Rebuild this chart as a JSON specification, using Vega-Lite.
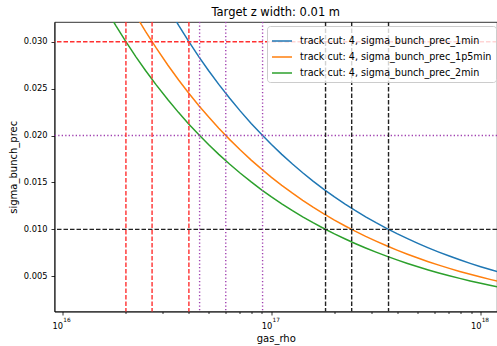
{
  "$schema": "https://vega.github.io/schema/vega-lite/v6.json",
  "autosize": "none",
  "width": 442.5,
  "height": 289.5,
  "padding": {"left": 54.5, "top": 22, "right": 0, "bottom": 34.5},
  "title": {"text": "Target z width: 0.01 m", "fontSize": 11.5, "fontWeight": "normal", "color": "#000", "offset": 3},
  "datasets": {
    "curves": [
      {"series": "1min", "rho": 3.2e16, "sigma": 0.033667},
      {"series": "1min", "rho": 3.6e16, "sigma": 0.031742},
      {"series": "1min", "rho": 4.0e16, "sigma": 0.030113},
      {"series": "1min", "rho": 4.5e16, "sigma": 0.028390},
      {"series": "1min", "rho": 5.0e16, "sigma": 0.026933},
      {"series": "1min", "rho": 5.6e16, "sigma": 0.025450},
      {"series": "1min", "rho": 6.3e16, "sigma": 0.023994},
      {"series": "1min", "rho": 7.1e16, "sigma": 0.022602},
      {"series": "1min", "rho": 8.0e16, "sigma": 0.021293},
      {"series": "1min", "rho": 9.0e16, "sigma": 0.020075},
      {"series": "1min", "rho": 1.0e17, "sigma": 0.019045},
      {"series": "1min", "rho": 1.12e17, "sigma": 0.017996},
      {"series": "1min", "rho": 1.26e17, "sigma": 0.016967},
      {"series": "1min", "rho": 1.41e17, "sigma": 0.016039},
      {"series": "1min", "rho": 1.58e17, "sigma": 0.015151},
      {"series": "1min", "rho": 1.78e17, "sigma": 0.014275},
      {"series": "1min", "rho": 2.0e17, "sigma": 0.013467},
      {"series": "1min", "rho": 2.24e17, "sigma": 0.012725},
      {"series": "1min", "rho": 2.51e17, "sigma": 0.012021},
      {"series": "1min", "rho": 2.82e17, "sigma": 0.011341},
      {"series": "1min", "rho": 3.16e17, "sigma": 0.010713},
      {"series": "1min", "rho": 3.55e17, "sigma": 0.010108},
      {"series": "1min", "rho": 3.98e17, "sigma": 0.009546},
      {"series": "1min", "rho": 4.47e17, "sigma": 0.009008},
      {"series": "1min", "rho": 5.01e17, "sigma": 0.008509},
      {"series": "1min", "rho": 5.62e17, "sigma": 0.008033},
      {"series": "1min", "rho": 6.31e17, "sigma": 0.007582},
      {"series": "1min", "rho": 7.08e17, "sigma": 0.007158},
      {"series": "1min", "rho": 7.94e17, "sigma": 0.006758},
      {"series": "1min", "rho": 8.91e17, "sigma": 0.006380},
      {"series": "1min", "rho": 1.0e18, "sigma": 0.006023},
      {"series": "1min", "rho": 1.12e18, "sigma": 0.005691},
      {"series": "1min", "rho": 1.2e18, "sigma": 0.005498},
      {"series": "1p5min", "rho": 2.25e16, "sigma": 0.032784},
      {"series": "1p5min", "rho": 2.5e16, "sigma": 0.031102},
      {"series": "1p5min", "rho": 2.8e16, "sigma": 0.029388},
      {"series": "1p5min", "rho": 3.2e16, "sigma": 0.027490},
      {"series": "1p5min", "rho": 3.6e16, "sigma": 0.025918},
      {"series": "1p5min", "rho": 4.0e16, "sigma": 0.024588},
      {"series": "1p5min", "rho": 4.5e16, "sigma": 0.023182},
      {"series": "1p5min", "rho": 5.0e16, "sigma": 0.021992},
      {"series": "1p5min", "rho": 5.6e16, "sigma": 0.020781},
      {"series": "1p5min", "rho": 6.3e16, "sigma": 0.019592},
      {"series": "1p5min", "rho": 7.1e16, "sigma": 0.018455},
      {"series": "1p5min", "rho": 8.0e16, "sigma": 0.017386},
      {"series": "1p5min", "rho": 9.0e16, "sigma": 0.016392},
      {"series": "1p5min", "rho": 1.0e17, "sigma": 0.015551},
      {"series": "1p5min", "rho": 1.12e17, "sigma": 0.014694},
      {"series": "1p5min", "rho": 1.26e17, "sigma": 0.013854},
      {"series": "1p5min", "rho": 1.41e17, "sigma": 0.013096},
      {"series": "1p5min", "rho": 1.58e17, "sigma": 0.012372},
      {"series": "1p5min", "rho": 1.78e17, "sigma": 0.011656},
      {"series": "1p5min", "rho": 2.0e17, "sigma": 0.010996},
      {"series": "1p5min", "rho": 2.24e17, "sigma": 0.010390},
      {"series": "1p5min", "rho": 2.51e17, "sigma": 0.009816},
      {"series": "1p5min", "rho": 2.82e17, "sigma": 0.009260},
      {"series": "1p5min", "rho": 3.16e17, "sigma": 0.008748},
      {"series": "1p5min", "rho": 3.55e17, "sigma": 0.008254},
      {"series": "1p5min", "rho": 3.98e17, "sigma": 0.007795},
      {"series": "1p5min", "rho": 4.47e17, "sigma": 0.007355},
      {"series": "1p5min", "rho": 5.01e17, "sigma": 0.006948},
      {"series": "1p5min", "rho": 5.62e17, "sigma": 0.006560},
      {"series": "1p5min", "rho": 6.31e17, "sigma": 0.006191},
      {"series": "1p5min", "rho": 7.08e17, "sigma": 0.005845},
      {"series": "1p5min", "rho": 7.94e17, "sigma": 0.005519},
      {"series": "1p5min", "rho": 8.91e17, "sigma": 0.005210},
      {"series": "1p5min", "rho": 1.0e18, "sigma": 0.004918},
      {"series": "1p5min", "rho": 1.12e18, "sigma": 0.004647},
      {"series": "1p5min", "rho": 1.2e18, "sigma": 0.004489},
      {"series": "2min", "rho": 1.6e16, "sigma": 0.033666},
      {"series": "2min", "rho": 1.8e16, "sigma": 0.031741},
      {"series": "2min", "rho": 2.0e16, "sigma": 0.030112},
      {"series": "2min", "rho": 2.25e16, "sigma": 0.028390},
      {"series": "2min", "rho": 2.5e16, "sigma": 0.026933},
      {"series": "2min", "rho": 2.8e16, "sigma": 0.025449},
      {"series": "2min", "rho": 3.2e16, "sigma": 0.023806},
      {"series": "2min", "rho": 3.6e16, "sigma": 0.022444},
      {"series": "2min", "rho": 4.0e16, "sigma": 0.021293},
      {"series": "2min", "rho": 4.5e16, "sigma": 0.020075},
      {"series": "2min", "rho": 5.0e16, "sigma": 0.019044},
      {"series": "2min", "rho": 5.6e16, "sigma": 0.017996},
      {"series": "2min", "rho": 6.3e16, "sigma": 0.016966},
      {"series": "2min", "rho": 7.1e16, "sigma": 0.015982},
      {"series": "2min", "rho": 8.0e16, "sigma": 0.015056},
      {"series": "2min", "rho": 9.0e16, "sigma": 0.014195},
      {"series": "2min", "rho": 1.0e17, "sigma": 0.013467},
      {"series": "2min", "rho": 1.12e17, "sigma": 0.012725},
      {"series": "2min", "rho": 1.26e17, "sigma": 0.011997},
      {"series": "2min", "rho": 1.41e17, "sigma": 0.011341},
      {"series": "2min", "rho": 1.58e17, "sigma": 0.010714},
      {"series": "2min", "rho": 1.78e17, "sigma": 0.010094},
      {"series": "2min", "rho": 2.0e17, "sigma": 0.009522},
      {"series": "2min", "rho": 2.24e17, "sigma": 0.008998},
      {"series": "2min", "rho": 2.51e17, "sigma": 0.008500},
      {"series": "2min", "rho": 2.82e17, "sigma": 0.008019},
      {"series": "2min", "rho": 3.16e17, "sigma": 0.007576},
      {"series": "2min", "rho": 3.55e17, "sigma": 0.007148},
      {"series": "2min", "rho": 3.98e17, "sigma": 0.006750},
      {"series": "2min", "rho": 4.47e17, "sigma": 0.006369},
      {"series": "2min", "rho": 5.01e17, "sigma": 0.006016},
      {"series": "2min", "rho": 5.62e17, "sigma": 0.005680},
      {"series": "2min", "rho": 6.31e17, "sigma": 0.005361},
      {"series": "2min", "rho": 7.08e17, "sigma": 0.005061},
      {"series": "2min", "rho": 7.94e17, "sigma": 0.004779},
      {"series": "2min", "rho": 8.91e17, "sigma": 0.004511},
      {"series": "2min", "rho": 1.0e18, "sigma": 0.004259},
      {"series": "2min", "rho": 1.12e18, "sigma": 0.004024},
      {"series": "2min", "rho": 1.2e18, "sigma": 0.003888}
    ],
    "hlines": [
      {"level": 0.03},
      {"level": 0.02},
      {"level": 0.01}
    ],
    "vlines": [
      {"level": 0.03, "rho": 2.015e16},
      {"level": 0.03, "rho": 2.687e16},
      {"level": 0.03, "rho": 4.03e16},
      {"level": 0.02, "rho": 4.534e16},
      {"level": 0.02, "rho": 6.046e16},
      {"level": 0.02, "rho": 9.068e16},
      {"level": 0.01, "rho": 1.8135e17},
      {"level": 0.01, "rho": 2.418e17},
      {"level": 0.01, "rho": 3.627e17}
    ]
  },
  "layer": [
    {
      "data": {"name": "curves"},
      "mark": {"type": "line", "clip": true, "strokeWidth": 1.5},
      "encoding": {
        "x": {
          "field": "rho", "type": "quantitative",
          "scale": {"type": "log", "domain": [9.18e15, 1.197e18], "nice": false},
          "axis": {
            "orient": "bottom",
            "title": "gas_rho",
            "values": [1e16, 2e16, 3e16, 4e16, 5e16, 6e16, 7e16, 8e16, 9e16, 1e17, 2e17, 3e17, 4e17, 5e17, 6e17, 7e17, 8e17, 9e17, 1e18],
            "labelExpr": "datum.value == 1e16 || datum.value == 1e17 || datum.value == 1e18 ? '10' : ''",
            "tickSize": {"condition": {"test": "datum.value == 1e16 || datum.value == 1e17 || datum.value == 1e18", "value": 3.5}, "value": 2},
            "labelFontSize": 8.3,
            "labelPadding": 6,
            "labelOffset": -5,
            "titlePadding": 4
          }
        },
        "y": {
          "field": "sigma", "type": "quantitative",
          "scale": {"domain": [0.00125, 0.0321], "nice": false, "zero": false},
          "axis": {
            "title": "sigma_bunch_prec",
            "values": [0.005, 0.01, 0.015, 0.02, 0.025, 0.03],
            "format": ".3f",
            "labelFontSize": 8.3,
            "tickSize": 3.5,
            "labelPadding": 4,
            "titlePadding": 5
          }
        },
        "color": {
          "field": "series", "type": "nominal",
          "scale": {"domain": ["1min", "1p5min", "2min"], "range": ["#1f77b4", "#ff7f0e", "#2ca02c"]},
          "legend": {
            "title": null,
            "orient": "none",
            "legendX": 212.5,
            "legendY": 4,
            "labelExpr": "'track cut: 4, sigma_bunch_prec_' + datum.label",
            "symbolType": "stroke",
            "symbolSize": 400,
            "symbolStrokeWidth": 1.5,
            "labelFontSize": 9.6,
            "labelColor": "#000",
            "labelOffset": 7,
            "labelLimit": 400,
            "padding": 4,
            "rowPadding": 0,
            "fillColor": "rgba(255,255,255,0.8)",
            "strokeColor": "#cccccc",
            "cornerRadius": 3
          }
        }
      }
    },
    {
      "data": {"name": "hlines"},
      "mark": {"type": "rule", "strokeWidth": 1.4},
      "encoding": {
        "y": {"field": "level", "type": "quantitative", "scale": {"domain": [0.00125, 0.0321], "nice": false, "zero": false}},
        "color": {"field": "level", "type": "nominal", "scale": {"domain": [0.03, 0.02, 0.01], "range": ["#ff3030", "#a040b0", "#222222"]}, "legend": null},
        "strokeDash": {"field": "level", "type": "nominal", "scale": {"domain": [0.03, 0.02, 0.01], "range": [[4.5, 2], [1.3, 2.2], [4.5, 2]]}, "legend": null}
      }
    },
    {
      "data": {"name": "vlines"},
      "mark": {"type": "rule", "strokeWidth": 1.4},
      "encoding": {
        "x": {
          "field": "rho", "type": "quantitative",
          "scale": {"type": "log", "domain": [9.18e15, 1.197e18], "nice": false},
          "axis": {
            "orient": "bottom",
            "title": null,
            "values": [1e16, 1e17, 1e18],
            "labelExpr": "datum.value == 1e16 ? '16' : datum.value == 1e17 ? '17' : '18'",
            "labelFontSize": 5.8,
            "labelOffset": 4.2,
            "labelPadding": 4.5,
            "ticks": false,
            "tickSize": 3.5,
            "domain": false
          }
        },
        "color": {"field": "level", "type": "nominal", "scale": {"domain": [0.03, 0.02, 0.01], "range": ["#ff3030", "#a040b0", "#222222"]}, "legend": null},
        "strokeDash": {"field": "level", "type": "nominal", "scale": {"domain": [0.03, 0.02, 0.01], "range": [[4.5, 2], [1.3, 2.2], [4.5, 2]]}, "legend": null}
      }
    }
  ],
  "resolve": {"scale": {"color": "independent", "strokeDash": "independent"}, "axis": {"x": "independent"}},
  "config": {
    "font": "DejaVu Sans",
    "view": {"stroke": "#000", "strokeWidth": 0.8},
    "axis": {
      "grid": false,
      "labelFontSize": 8,
      "titleFontSize": 10,
      "titleFontWeight": "normal",
      "labelColor": "#000",
      "titleColor": "#000",
      "domainColor": "#000",
      "tickColor": "#000",
      "domainWidth": 0.8,
      "tickWidth": 0.8
    }
  }
}
